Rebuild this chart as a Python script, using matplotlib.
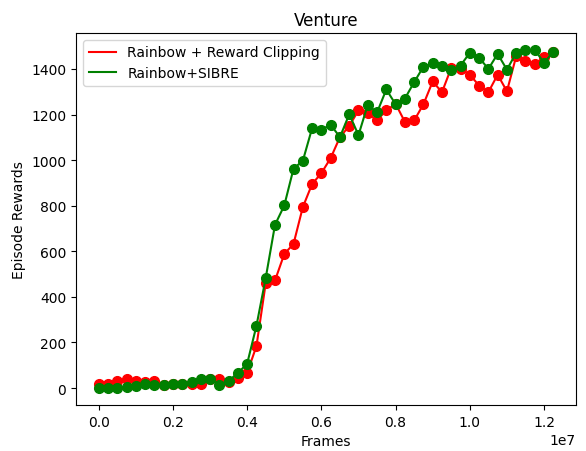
import matplotlib
matplotlib.use("Agg")
import matplotlib.pyplot as plt
import numpy as np

# frames: 50 evaluation points, every 250k frames
frames = np.arange(50) * 250000

clip_rewards = [19, 20, 31, 39, 29, 25, 31, 15, 18, 19,
                16, 20, 38, 38, 26, 44, 67, 184, 460, 472,
                588, 633, 794, 895, 943, 1009, 1101, 1150, 1218, 1205,
                1176, 1218, 1247, 1168, 1174, 1245, 1345, 1298, 1405, 1400,
                1375, 1327, 1298, 1375, 1302, 1456, 1437, 1422, 1452, 1476]

sibre_rewards = [0, 0, 0, 3, 7, 19, 13, 13, 18, 20,
                 26, 38, 38, 15, 32, 66, 107, 273, 483, 716,
                 801, 963, 997, 1140, 1134, 1155, 1101, 1201, 1110, 1243,
                 1209, 1310, 1245, 1270, 1342, 1410, 1424, 1415, 1395, 1415,
                 1471, 1450, 1400, 1466, 1397, 1471, 1482, 1484, 1427, 1476]

fig = plt.figure(figsize=(5.86, 4.52), dpi=100)
ax = fig.add_axes([0.1297, 0.1018, 0.8533, 0.8232])

ax.plot(frames, clip_rewards, 'o-', c='red', markersize=7, label="Rainbow + Reward Clipping")
ax.plot(frames, sibre_rewards, 'o-', c='green', markersize=7, label="Rainbow+SIBRE")

ax.set_title("Venture")
ax.set_xlabel("Frames")
ax.set_ylabel("Episode Rewards")
ax.legend(loc='upper left', handlelength=2, handler_map=None)

# legend shows only lines, no markers
for h in ax.get_legend().legend_handles:
    h.set_marker('')

fig.savefig("out.png", dpi=100)
